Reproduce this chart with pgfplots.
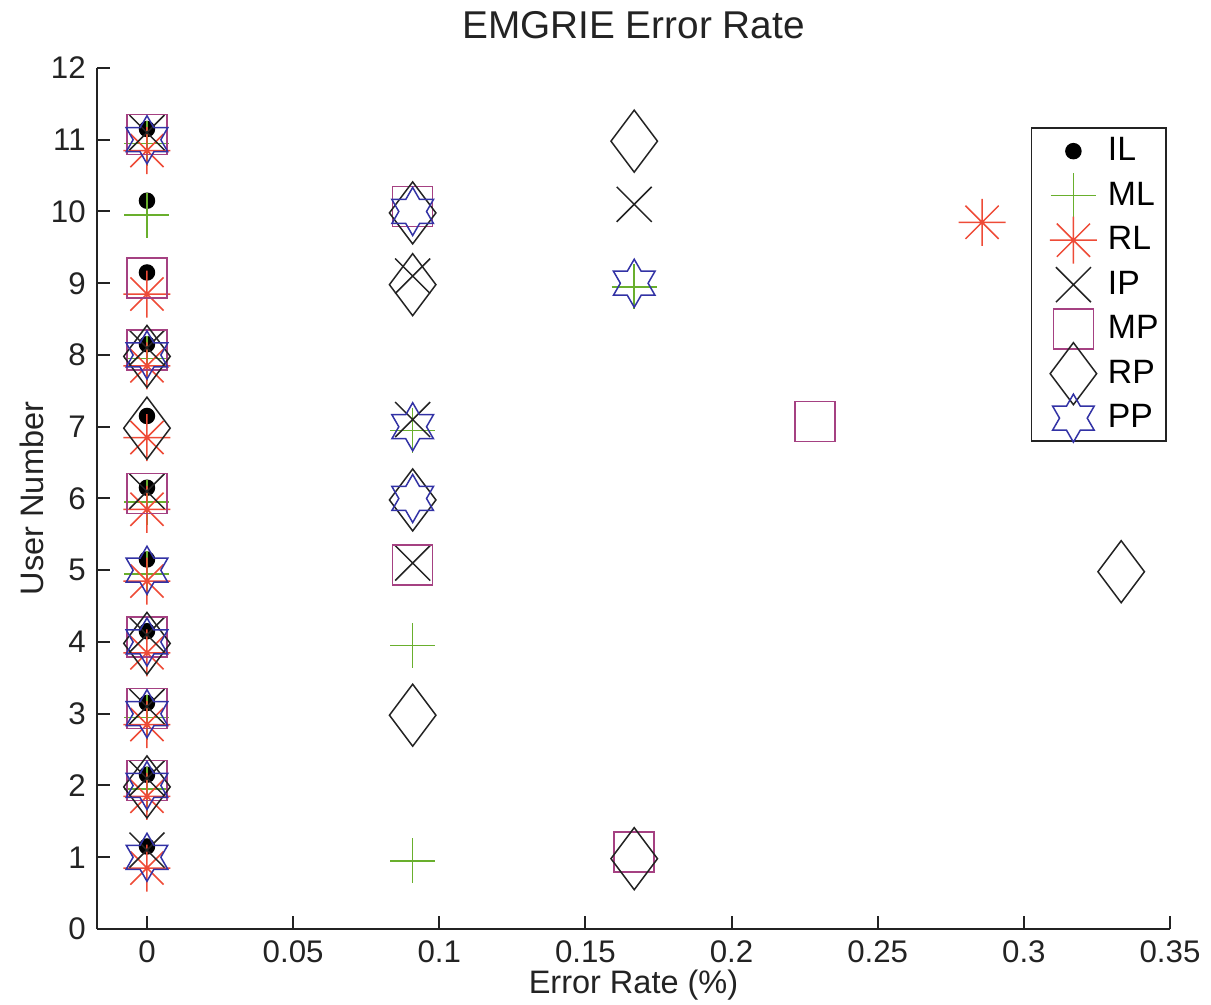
\documentclass[border=0pt]{standalone}
\usepackage{fontspec}
\setmainfont{Liberation Sans}
\usepackage{pgfplots}
\pgfplotsset{compat=1.18}

\definecolor{mlgreen}{RGB}{105,175,45}
\definecolor{rlred}{RGB}{238,75,55}
\definecolor{mppurple}{RGB}{165,65,130}
\definecolor{ppblue}{RGB}{50,50,165}
\definecolor{dk}{RGB}{35,35,35}

% MATLAB-like '*' marker (8 spokes)
\pgfdeclareplotmark{mlast}{%
  \pgfpathmoveto{\pgfqpoint{-\pgfplotmarksize}{0pt}}\pgfpathlineto{\pgfqpoint{\pgfplotmarksize}{0pt}}%
  \pgfpathmoveto{\pgfqpoint{0pt}{-\pgfplotmarksize}}\pgfpathlineto{\pgfqpoint{0pt}{\pgfplotmarksize}}%
  \pgfpathmoveto{\pgfpointpolar{45}{\pgfplotmarksize}}\pgfpathlineto{\pgfpointpolar{225}{\pgfplotmarksize}}%
  \pgfpathmoveto{\pgfpointpolar{135}{\pgfplotmarksize}}\pgfpathlineto{\pgfpointpolar{315}{\pgfplotmarksize}}%
  \pgfusepathqstroke}
% MATLAB-like hexagram 'h'
\pgfdeclareplotmark{hexagram}{%
  \pgfpathmoveto{\pgfpointpolar{90}{\pgfplotmarksize}}%
  \pgfpathlineto{\pgfpointpolar{120}{0.57735\pgfplotmarksize}}%
  \pgfpathlineto{\pgfpointpolar{150}{\pgfplotmarksize}}%
  \pgfpathlineto{\pgfpointpolar{180}{0.57735\pgfplotmarksize}}%
  \pgfpathlineto{\pgfpointpolar{210}{\pgfplotmarksize}}%
  \pgfpathlineto{\pgfpointpolar{240}{0.57735\pgfplotmarksize}}%
  \pgfpathlineto{\pgfpointpolar{270}{\pgfplotmarksize}}%
  \pgfpathlineto{\pgfpointpolar{300}{0.57735\pgfplotmarksize}}%
  \pgfpathlineto{\pgfpointpolar{330}{\pgfplotmarksize}}%
  \pgfpathlineto{\pgfpointpolar{0}{0.57735\pgfplotmarksize}}%
  \pgfpathlineto{\pgfpointpolar{30}{\pgfplotmarksize}}%
  \pgfpathlineto{\pgfpointpolar{60}{0.57735\pgfplotmarksize}}%
  \pgfpathclose\pgfusepathqstroke}

\pgfplotsset{
  mkleg/.style={legend image code/.code={%
    \path[draw=none,fill=none] (0pt,-8.9pt) rectangle (27.6pt,8.9pt);
    \draw[overlay,##1] plot coordinates {(15.8pt,0pt)};}},
  sc/.style={only marks, line width=0.6pt, mark options={solid}, mkleg},
}

\begin{document}
\begin{tikzpicture}
\begin{axis}[
  name=ax,
  scale only axis,
  width=429.2pt, height=344.4pt,
  xmin=-0.0171, xmax=0.35,
  ymin=0, ymax=12,
  axis x line*=bottom, axis y line*=left,
  axis line style={-, line width=0.8pt, dk},
  tick align=inside,
  major tick length=5pt,
  tick style={line width=0.8pt, dk},
  xtick={0,0.05,0.1,0.15,0.2,0.25,0.3,0.35},
  xticklabels={0,0.05,0.1,0.15,0.2,0.25,0.3,0.35},
  ytick={0,1,2,3,4,5,6,7,8,9,10,11,12},
  yticklabels={0,1,2,3,4,5,6,7,8,9,10,11,12},
  /pgf/number format/assume math mode=true,
  ticklabel style={font=\fontsize{12.5}{14}\selectfont, text=dk},
  xticklabel style={yshift=-1pt},
  yticklabel style={xshift=-1pt},
  title={EMGRIE Error Rate},
  title style={font=\fontsize{15.5}{18}\selectfont, text=dk, yshift=2pt},
  xlabel={Error Rate (\%)},
  ylabel={User Number},
  label style={font=\fontsize{13}{15}\selectfont, text=dk},
  xlabel style={yshift=4pt},
  ylabel style={yshift=-4pt},
  legend style={at={(0.997,0.931)}, anchor=north east, draw=dk, line width=0.6pt,
    inner xsep=1pt, inner ysep=0.3pt, row sep=0pt, font=\fontsize{13.5}{15}\selectfont,
    cells={anchor=west}},
  clip=false,
]
% IL
\addplot[sc, mark=*, mark size=3pt, draw=black, fill=black] coordinates {
 (0,11.15) (0,10.15) (0,9.15) (0,8.15) (0,7.15) (0,6.15) (0,5.15) (0,4.15) (0,3.15) (0,2.15) (0,1.15)};
\addlegendentry{IL}
% ML
\addplot[sc, mark=+, mark size=9pt, mlgreen] coordinates {
 (0,10.95) (0,9.95) (0.1667,8.95) (0,7.95) (0.0909,6.95) (0,5.95) (0,4.95) (0.0909,3.95) (0,2.95) (0,1.95) (0.0909,0.95)};
\addlegendentry{ML}
% RL
\addplot[sc, mark=mlast, mark size=9.4pt, rlred] coordinates {
 (0,10.85) (0.2857,9.85) (0,8.85) (0,7.85) (0,6.85) (0,5.85) (0,4.85) (0,3.85) (0,2.85) (0,1.85) (0,0.85)};
\addlegendentry{RL}
% IP
\addplot[sc, mark=x, mark size=9.9pt, dk] coordinates {
 (0,11.1) (0.1667,10.1) (0.0909,9.1) (0,8.1) (0.0909,7.1) (0,6.1) (0.0909,5.1) (0,4.1) (0,3.1) (0,2.1) (0,1.1)};
\addlegendentry{IP}
% MP
\addplot[sc, mark=square, mark size=8pt, mppurple] coordinates {
 (0,11.07) (0.0909,10.07) (0,9.07) (0,8.07) (0.2286,7.07) (0,6.07) (0.0909,5.07) (0,4.07) (0,3.07) (0,2.07) (0.1667,1.07)};
\addlegendentry{MP\hspace{4.5pt}}
% RP
\addplot[sc, mark=diamond, mark size=12.4pt, dk] coordinates {
 (0.1667,10.98) (0.0909,9.98) (0.0909,8.98) (0,7.98) (0,6.98) (0.0909,5.98) (0.3333,4.98) (0,3.98) (0.0909,2.98) (0,1.98) (0.1667,0.98)};
\addlegendentry{RP}
% PP
\addplot[sc, mark=hexagram, mark size=9.6pt, ppblue] coordinates {
 (0,11) (0.0909,10) (0.1667,9) (0,8) (0.0909,7) (0.0909,6) (0,5) (0,4) (0,3) (0,2) (0,1)};
\addlegendentry{PP}
\end{axis}
\pgfresetboundingbox
\path[use as bounding box] ([shift={(-38.8pt,-30pt)}]ax.south west) rectangle ([shift={(16.4pt,27.2pt)}]ax.north east);
\end{tikzpicture}
\end{document}
